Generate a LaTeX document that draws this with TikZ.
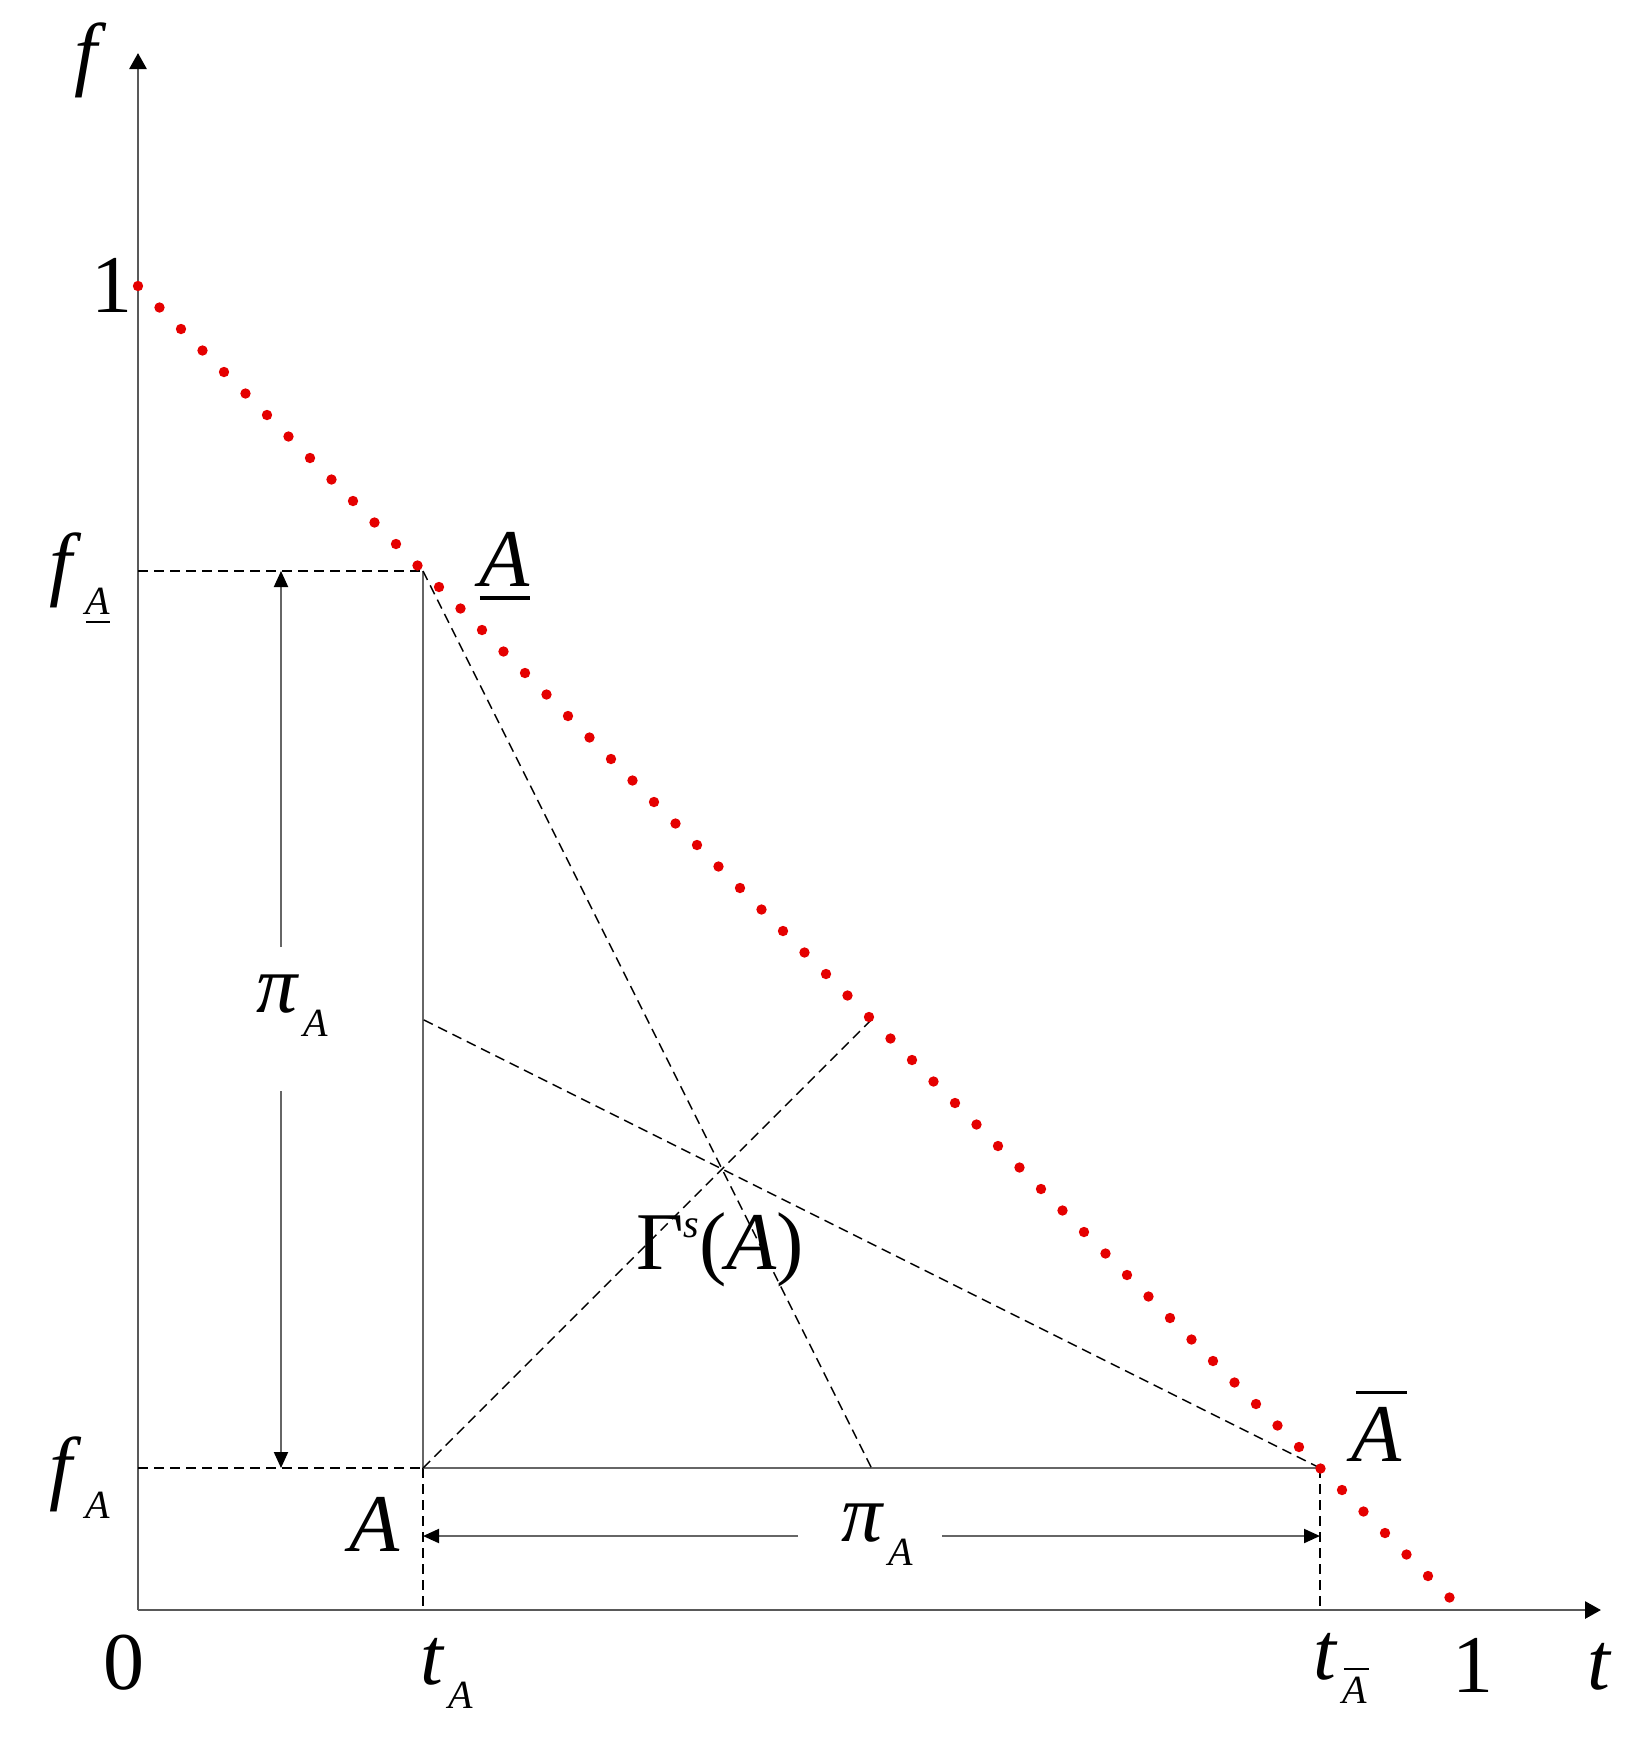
\documentclass[tikz,border=0pt]{standalone}
\usepackage{fontspec}
\setmainfont{Liberation Serif}
\usetikzlibrary{arrows.meta,calc}
\newcommand{\bigfont}{\fontsize{41}{48}\selectfont}
\newcommand{\subfont}{\fontsize{20}{24}\selectfont}
\newcommand{\lsub}[1]{\kern2pt\raisebox{-12pt}{\subfont\itshape #1}}
\newsavebox\mybox
% #1 content, #2 gap, #3 thickness
\newcommand{\myunder}[3]{\sbox\mybox{#1}\vtop{\offinterlineskip\copy\mybox\kern#2\hrule height #3 width \wd\mybox}}
\newcommand{\myover}[3]{\sbox\mybox{#1}\vbox{\offinterlineskip\hbox to\wd\mybox{\hskip0.08\wd\mybox\vrule height #3 width 1.02\wd\mybox\hss}\kern#2\copy\mybox}}
\tikzset{
  lbl/.style={inner sep=0pt, font=\bigfont},
  axisln/.style={draw=black!65, line width=1.4pt},
  guide/.style={draw=black, line width=0.7pt, dash pattern=on 5pt off 3pt},
  solidln/.style={draw=black!60, line width=1pt},
  dimln/.style={draw=black!60, line width=1pt, -{Triangle[length=8pt,width=7pt,color=black]}},
  axtip/.style={-{Triangle[length=8pt,width=8.5pt,color=black]}},
  rdot/.style={fill=red!90!black}
}
\begin{document}
\begin{tikzpicture}[x=0.5pt,y=-0.5pt]
\useasboundingbox (0,0) rectangle (1641,1742);
% key points
\coordinate (O) at (138,1610);
\coordinate (Ytip) at (138,53);
\coordinate (Xtip) at (1601,1610);
\coordinate (P1) at (423,571);
\coordinate (P2) at (423,1468);
\coordinate (P3) at (1320,1468);
\coordinate (fP1) at (138,571);
\coordinate (fP2) at (138,1468);
\coordinate (tP1) at (423,1610);
\coordinate (tP3) at (1320,1610);
\coordinate (M23) at ($(P2)!0.5!(P3)$);
\coordinate (M12) at ($(P1)!0.5!(P2)$);
\coordinate (M13) at ($(P1)!0.5!(P3)$);
% dimension arrow ends
\coordinate (vA) at (281,571);
\coordinate (vB) at (281,947);
\coordinate (vC) at (281,1091);
\coordinate (vD) at (281,1468);
\coordinate (hA) at (423,1536);
\coordinate (hB) at (798,1536);
\coordinate (hC) at (942,1536);
\coordinate (hD) at (1320,1536);

% axes
\draw[axisln,axtip] (O) -- (Ytip);
\draw[axisln,axtip] (O) -- (Xtip);

% guides
\draw[guide] (fP1) -- (P1);
\draw[guide] (fP2) -- (P2);
\draw[guide] (P2) -- (tP1);
\draw[guide] (P3) -- (tP3);
\draw[solidln] (P1) -- (P2);
\draw[solidln] (P2) -- (P3);

% medians
\draw[guide] (P1) -- (M23);
\draw[guide] (P3) -- (M12);
\draw[guide] (P2) -- (M13);

% red dotted line f = 1 - t
\foreach \i in {0,...,61}
  \fill[rdot] (138+\i*21.5,286+\i*21.5) circle (2.6pt);

% dimension arrows
\draw[dimln] (vB) -- (vA);
\draw[dimln] (vC) -- (vD);
\draw[dimln] (hB) -- (hA);
\draw[dimln] (hC) -- (hD);

% labels
\node[lbl] (flab) at (91,60) {\textit{f}};
\node[lbl] (one) at (112,285) {1};
\node[lbl] (fAu) at (80,578) {\textit{f}\lsub{\myunder{A}{3.5pt}{1pt}}};
\node[lbl] (fA) at (80,1478) {\textit{f}\lsub{A}};
\node[lbl] (zero) at (124,1663) {0};
\node[lbl] (tA) at (447,1673) {\textit{t}\lsub{A}};
\node[lbl] (tAb) at (1340,1668) {\textit{t}\lsub{\myover{A}{3.5pt}{1pt}}};
\node[lbl] (onet) at (1473,1665) {1};
\node[lbl] (tlab) at (1600,1667) {\textit{t}};
\node[lbl] (Au) at (505,566) {\myunder{\itshape A}{5pt}{1.6pt}};
\node[lbl] (Ab) at (1377,1426) {\myover{\itshape A}{6.5pt}{1.6pt}};
\node[lbl] (Alab) at (375,1524) {\textit{A}};
\node[lbl] (piV) at (292,1006) {\textit{π}\lsub{A}};
\node[lbl] (piH) at (877,1535) {\textit{π}\lsub{A}};
\node[lbl] (Gam) at (720,1250) {Γ\raisebox{16pt}{\subfont\itshape s}(\textit{A})};
\end{tikzpicture}
\end{document}
